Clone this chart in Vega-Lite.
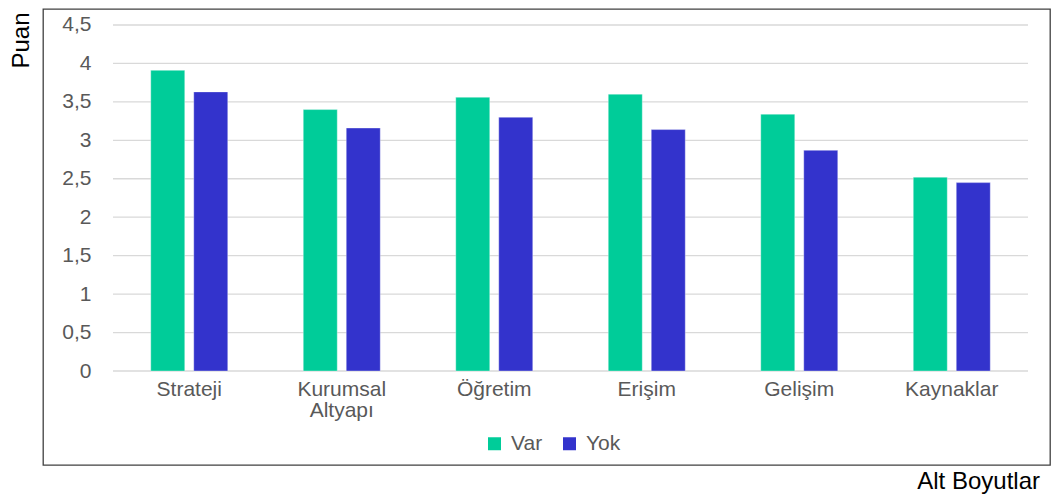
{
  "$schema": "https://vega.github.io/schema/vega-lite/v6.json",
  "width": 1007,
  "height": 456,
  "autosize": {"type": "none"},
  "padding": {"left": 43, "top": 9, "right": 1, "bottom": 31},
  "datasets": {
    "bars": [
      {"cat": "Strateji", "grp": "Var", "val": 3.91},
      {"cat": "Strateji", "grp": "Yok", "val": 3.63},
      {"cat": "Kurumsal Altyapı", "grp": "Var", "val": 3.40},
      {"cat": "Kurumsal Altyapı", "grp": "Yok", "val": 3.16},
      {"cat": "Öğretim", "grp": "Var", "val": 3.56},
      {"cat": "Öğretim", "grp": "Yok", "val": 3.30},
      {"cat": "Erişim", "grp": "Var", "val": 3.60},
      {"cat": "Erişim", "grp": "Yok", "val": 3.14},
      {"cat": "Gelişim", "grp": "Var", "val": 3.34},
      {"cat": "Gelişim", "grp": "Yok", "val": 2.87},
      {"cat": "Kaynaklar", "grp": "Var", "val": 2.52},
      {"cat": "Kaynaklar", "grp": "Yok", "val": 2.45}
    ],
    "grid": [
      {"v": 0, "s": "Strateji", "e": "Kaynaklar"},
      {"v": 0.5, "s": "Strateji", "e": "Kaynaklar"},
      {"v": 1, "s": "Strateji", "e": "Kaynaklar"},
      {"v": 1.5, "s": "Strateji", "e": "Kaynaklar"},
      {"v": 2, "s": "Strateji", "e": "Kaynaklar"},
      {"v": 2.5, "s": "Strateji", "e": "Kaynaklar"},
      {"v": 3, "s": "Strateji", "e": "Kaynaklar"},
      {"v": 3.5, "s": "Strateji", "e": "Kaynaklar"},
      {"v": 4, "s": "Strateji", "e": "Kaynaklar"},
      {"v": 4.5, "s": "Strateji", "e": "Kaynaklar"}
    ]
  },
  "title": {
    "text": "Alt Boyutlar",
    "orient": "bottom",
    "anchor": "end",
    "font": "Liberation Sans",
    "fontSize": 24,
    "fontWeight": "normal",
    "color": "#000000",
    "offset": 5,
    "dx": -10
  },
  "config": {
    "font": "Liberation Sans",
    "view": {"stroke": "#404040", "strokeWidth": 1.3}
  },
  "layer": [
    {
      "data": {"name": "grid"},
      "mark": {"type": "rule", "color": "#d9d9d9", "strokeWidth": 1.3},
      "encoding": {
        "x": {
          "field": "s",
          "type": "nominal",
          "bandPosition": 0,
          "scale": {
            "type": "band",
            "domain": ["Strateji", "Kurumsal Altyapı", "Öğretim", "Erişim", "Gelişim", "Kaynaklar"],
            "paddingInner": 0,
            "paddingOuter": 0.3016,
            "align": 0.761
          },
          "axis": {
            "orient": "bottom",
            "offset": -94,
            "domain": false,
            "ticks": false,
            "tickSize": 0,
            "grid": false,
            "labelAngle": 0,
            "labelPadding": 7,
            "labelFontSize": 21,
            "labelColor": "#595959",
            "labelLineHeight": 21,
            "labelExpr": "split(datum.label, ' ')",
            "title": null
          }
        },
        "x2": {"field": "e", "bandPosition": 1},
        "y": {
          "field": "v",
          "type": "quantitative",
          "scale": {"domain": [-1.2225, 4.708], "nice": false, "zero": false},
          "axis": {
            "orient": "left",
            "offset": -70,
            "values": [0, 0.5, 1, 1.5, 2, 2.5, 3, 3.5, 4, 4.5],
            "labelExpr": "replace(toString(datum.value), '.', ',')",
            "domain": false,
            "ticks": false,
            "tickSize": 0,
            "grid": false,
            "labelPadding": 22,
            "labelFontSize": 21,
            "labelColor": "#595959",
            "title": "Puan",
            "titleFont": "Liberation Sans",
            "titleFontSize": 24,
            "titleFontWeight": "normal",
            "titleColor": "#000000",
            "titlePadding": 28,
            "titleY": 31,
            "titleAlign": "center"
          }
        }
      }
    },
    {
      "data": {"name": "bars"},
      "mark": {"type": "bar", "stroke": "#ffffff", "strokeOpacity": 0.35, "strokeWidth": 1},
      "encoding": {
        "x": {"field": "cat", "type": "nominal"},
        "xOffset": {
          "field": "grp",
          "type": "nominal",
          "scale": {"paddingInner": 0.209, "paddingOuter": 0.878}
        },
        "y": {"field": "val", "type": "quantitative"},
        "y2": {"datum": 0},
        "color": {
          "field": "grp",
          "type": "nominal",
          "scale": {"domain": ["Var", "Yok"], "range": ["#00cc99", "#3333cc"]},
          "legend": {
            "orient": "none",
            "legendX": 441,
            "legendY": 424,
            "direction": "horizontal",
            "title": null,
            "symbolType": "square",
            "symbolSize": 169,
            "symbolStrokeWidth": 0,
            "labelFontSize": 21,
            "labelColor": "#595959",
            "labelOffset": 6,
            "columnPadding": 16
          }
        }
      }
    }
  ]
}
